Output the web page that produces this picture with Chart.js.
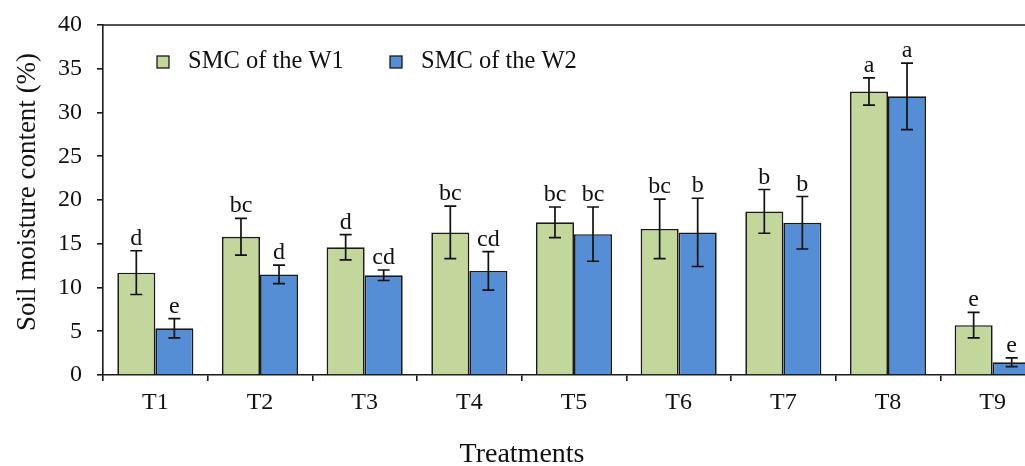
<!DOCTYPE html>
<html>
<head>
<meta charset="utf-8">
<script src="https://cdn.jsdelivr.net/npm/chart.js@4.4.0/dist/chart.umd.min.js"></script>
<style>
  html, body { margin: 0; padding: 0; background: #fff; overflow: hidden; }
</style>
</head>
<body>
<div style="width:1045px;height:466px"><canvas id="graficoSmc" width="1045" height="466"></canvas></div>
<script>
const tratamentos = ['T1', 'T2', 'T3', 'T4', 'T5', 'T6', 'T7', 'T8', 'T9'];
const smcW1 = [11.7, 15.8, 14.6, 16.3, 17.45, 16.7, 18.7, 32.4, 5.7];
const smcW2 = [5.35, 11.5, 11.4, 11.9, 16.1, 16.3, 17.4, 31.85, 1.45];
const erroW1 = [2.5, 2.1, 1.45, 3.0, 1.75, 3.4, 2.5, 1.55, 1.45];
const erroW2 = [1.1, 1.05, 0.6, 2.2, 3.1, 3.9, 3.0, 3.8, 0.5];
const letrasW1 = ['d', 'bc', 'd', 'bc', 'bc', 'bc', 'b', 'a', 'e'];
const letrasW2 = ['e', 'd', 'cd', 'cd', 'bc', 'b', 'b', 'a', 'e'];
const ticksY = [0, 5, 10, 15, 20, 25, 30, 35, 40];

const fonte = "'Liberation Serif', 'Times New Roman', serif";
const corTexto = '#111';
const corLinha = '#1a1a1a';

// barras de erro, letras, legenda e titulos
const extras = {
  id: 'extras',
  afterDatasetsDraw(chart) {
    const ctx = chart.ctx;
    const y = chart.scales.y;
    const area = chart.chartArea;
    const erros = [erroW1, erroW2];
    const letras = [letrasW1, letrasW2];
    const valores = [smcW1, smcW2];

    ctx.save();
    chart.data.datasets.forEach((ds, i) => {
      const meta = chart.getDatasetMeta(i);
      meta.data.forEach((barra, j) => {
        const v = valores[i][j];
        const e = erros[i][j];
        const topo = y.getPixelForValue(v + e);
        const base = y.getPixelForValue(v - e);
        ctx.strokeStyle = corTexto;
        ctx.lineWidth = 1.7;
        ctx.beginPath();
        ctx.moveTo(barra.x, topo);
        ctx.lineTo(barra.x, base);
        ctx.moveTo(barra.x - 6, topo);
        ctx.lineTo(barra.x + 6, topo);
        ctx.moveTo(barra.x - 6, base);
        ctx.lineTo(barra.x + 6, base);
        ctx.stroke();

        ctx.fillStyle = corTexto;
        ctx.font = '24px ' + fonte;
        ctx.textAlign = 'center';
        ctx.textBaseline = 'alphabetic';
        ctx.fillText(letras[i][j], barra.x, topo - 6);
      });
    });

    // linha de cima
    ctx.strokeStyle = corLinha;
    ctx.lineWidth = 1.6;
    ctx.beginPath();
    ctx.moveTo(area.left, area.top);
    ctx.lineTo(area.right, area.top);
    ctx.stroke();

    // legenda
    const itens = [
      { x: 157, texto: chart.data.datasets[0].label, cor: chart.data.datasets[0].backgroundColor },
      { x: 390, texto: chart.data.datasets[1].label, cor: chart.data.datasets[1].backgroundColor }
    ];
    itens.forEach(item => {
      ctx.fillStyle = item.cor;
      ctx.fillRect(item.x, 56, 12, 12);
      ctx.strokeStyle = corLinha;
      ctx.lineWidth = 1.3;
      ctx.strokeRect(item.x, 56, 12, 12);
      ctx.fillStyle = corTexto;
      ctx.font = '24.5px ' + fonte;
      ctx.textAlign = 'left';
      ctx.textBaseline = 'middle';
      ctx.fillText(item.texto, item.x + 31, 62);
    });

    // titulos dos eixos
    ctx.font = '28px ' + fonte;
    ctx.textAlign = 'center';
    ctx.textBaseline = 'middle';
    ctx.fillText('Treatments', 522, 455);
    ctx.font = '27px ' + fonte;
    ctx.translate(28, 192);
    ctx.rotate(-Math.PI / 2);
    ctx.fillText('Soil moisture content (%)', 0, 0);
    ctx.restore();
  }
};

const graficoSmc = new Chart(document.getElementById('graficoSmc'), {
  type: 'bar',
  data: {
    labels: tratamentos,
    datasets: [{
      label: 'SMC of the W1',
      data: smcW1,
      backgroundColor: '#C3D69B',
      borderColor: corLinha,
      borderWidth: 1.7,
      categoryPercentage: 0.727,
      barPercentage: 1.0
    }, {
      label: 'SMC of the W2',
      data: smcW2,
      backgroundColor: '#558ED5',
      borderColor: corLinha,
      borderWidth: 1.7,
      categoryPercentage: 0.727,
      barPercentage: 1.0
    }]
  },
  options: {
    responsive: false,
    animation: false,
    layout: { padding: { top: 25, right: 0, left: 0, bottom: 0 } },
    plugins: {
      legend: { display: false },
      tooltip: { enabled: false }
    },
    scales: {
      x: {
        grid: { drawOnChartArea: false, drawTicks: true, tickLength: 6, color: corLinha, lineWidth: 1.6 },
        border: { display: true, color: corLinha, width: 1.6 },
        ticks: { color: corTexto, font: { family: fonte, size: 24 }, padding: 7 },
        afterFit(escala) {
          escala.height = 91;
          escala.paddingLeft = 0;
          escala.paddingRight = 0;
        }
      },
      y: {
        min: 0,
        max: 40,
        afterBuildTicks(escala) { escala.ticks = ticksY.map(v => ({ value: v })); },
        grid: { drawOnChartArea: false, drawTicks: true, tickLength: 6, color: corLinha, lineWidth: 1.6 },
        border: { display: true, color: corLinha, width: 1.6 },
        ticks: { color: corTexto, font: { family: fonte, size: 24 }, padding: 15 },
        afterFit(escala) {
          escala.width = 103;
          escala.paddingTop = 0;
          escala.paddingBottom = 0;
        }
      }
    }
  },
  plugins: [extras]
});
</script>
</body>
</html>
